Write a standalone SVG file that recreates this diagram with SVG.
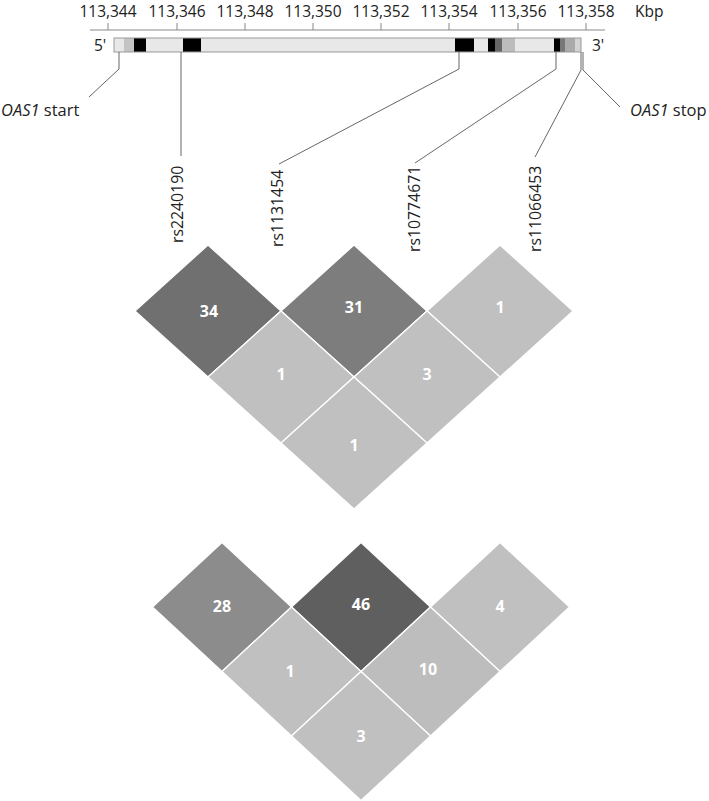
<svg xmlns="http://www.w3.org/2000/svg" width="709" height="801" viewBox="0 0 709 801">
<style>
text{font-family:"Open Sans","Liberation Sans",sans-serif;fill:#222;}
.tick{font-size:15.5px;text-anchor:middle;}
.lbl{font-size:15.5px;}
.gl{font-size:16.5px;}
.snp{font-size:15.8px;}
.num{font-size:16px;font-weight:bold;fill:#fff;text-anchor:middle;}
.conn{stroke:#666;stroke-width:1;fill:none;}
.dia{stroke:#fff;stroke-width:1.3;}
.light{fill:#c0c0c0;}
</style>
<rect width="709" height="801" fill="#fff"/>
<g id="axis">
<line x1="90" y1="30" x2="605" y2="30" stroke="#888" stroke-width="1"/>
<g stroke="#888" stroke-width="1">
<line x1="108" y1="23" x2="108" y2="30"/><line x1="177" y1="23" x2="177" y2="30"/><line x1="245" y1="23" x2="245" y2="30"/><line x1="313" y1="23" x2="313" y2="30"/><line x1="381" y1="23" x2="381" y2="30"/><line x1="449" y1="23" x2="449" y2="30"/><line x1="518" y1="23" x2="518" y2="30"/><line x1="586" y1="23" x2="586" y2="30"/>
</g>
<text class="tick" x="108" y="16.5">113,344</text>
<text class="tick" x="177" y="16.5">113,346</text>
<text class="tick" x="245" y="16.5">113,348</text>
<text class="tick" x="313" y="16.5">113,350</text>
<text class="tick" x="381" y="16.5">113,352</text>
<text class="tick" x="449" y="16.5">113,354</text>
<text class="tick" x="518" y="16.5">113,356</text>
<text class="tick" x="586" y="16.5">113,358</text>
<text class="lbl" x="635" y="16.5">Kbp</text>
</g>
<g id="gene">
<rect x="114" y="38" width="467" height="14" fill="#e8e8e8"/>
<rect x="124" y="38" width="10" height="14" fill="#c4c4c4"/>
<rect x="134" y="38" width="12" height="14" fill="#000"/>
<rect x="183" y="38" width="18" height="14" fill="#000"/>
<rect x="455" y="38" width="19" height="14" fill="#000"/>
<rect x="488" y="38" width="7" height="14" fill="#000"/>
<rect x="495" y="38" width="7" height="14" fill="#666"/>
<rect x="502" y="38" width="13" height="14" fill="#bcbcbc"/>
<rect x="554" y="38" width="6" height="14" fill="#000"/>
<rect x="560" y="38" width="5" height="14" fill="#777"/>
<rect x="565" y="38" width="10" height="14" fill="#aaa"/>
<rect x="575" y="38" width="6" height="14" fill="#d4d4d4"/>
<rect x="114" y="38" width="467" height="14" fill="none" stroke="#999" stroke-width="1"/>
<text class="lbl" x="94" y="51">5'</text>
<text class="lbl" x="592" y="51">3'</text>
</g>
<g id="connectors">
<polyline class="conn" points="119,52 119,69 89,97"/>
<polyline class="conn" points="181,52 181,156"/>
<polyline class="conn" points="459,52 459,69 279,164"/>
<polyline class="conn" points="556,52 556,69 415,163"/>
<polyline class="conn" points="581,52 581,70 535,157"/>
<polyline class="conn" points="583,52 583,70 620,107"/>
</g>
<g id="labels">
<text class="gl" x="1" y="116"><tspan font-style="italic">OAS1</tspan> start</text>
<text class="gl" x="630" y="116"><tspan font-style="italic">OAS1</tspan> stop</text>
<text class="snp" transform="translate(183,243) rotate(-90)">rs2240190</text>
<text class="snp" transform="translate(283,247) rotate(-90)">rs1131454</text>
<text class="snp" transform="translate(420,252) rotate(-90)">rs10774671</text>
<text class="snp" transform="translate(541,252) rotate(-90)">rs11066453</text>
</g>
<g id="ld1">
<g id="d1-34"><polygon class="dia" fill="#707070" points="135,311 208,245 281,311 208,377"/><text class="num" x="209" y="317">34</text></g>
<g id="d1-31"><polygon class="dia" fill="#7d7d7d" points="281,311 354,245 427,311 354,377"/><text class="num" x="354" y="313">31</text></g>
<g id="d1-1a"><polygon class="dia light" points="427,311 500,245 573,311 500,377"/><text class="num" x="500" y="313">1</text></g>
<g id="d1-1b"><polygon class="dia light" points="208,377 281,311 354,377 281,443"/><text class="num" x="281" y="380">1</text></g>
<g id="d1-3"><polygon class="dia light" points="354,377 427,311 500,377 427,443"/><text class="num" x="427" y="380">3</text></g>
<g id="d1-1c"><polygon class="dia light" points="281,443 354,377 427,443 354,509"/><text class="num" x="354" y="451">1</text></g>
</g>
<g id="ld2">
<g id="d2-28"><polygon class="dia" fill="#8c8c8c" points="152.5,607 222,542.5 291.5,607 222,671.5"/><text class="num" x="222" y="612">28</text></g>
<g id="d2-46"><polygon class="dia" fill="#5f5f5f" points="291.5,607 361,542.5 430.5,607 361,671.5"/><text class="num" x="361" y="610">46</text></g>
<g id="d2-4"><polygon class="dia light" points="430.5,607 500,542.5 569.5,607 500,671.5"/><text class="num" x="500" y="612">4</text></g>
<g id="d2-1"><polygon class="dia light" points="222,671.5 291.5,607 361,671.5 291.5,736"/><text class="num" x="290" y="677">1</text></g>
<g id="d2-10"><polygon class="dia" fill="#bdbdbd" points="361,671.5 430.5,607 500,671.5 430.5,736"/><text class="num" x="428" y="675">10</text></g>
<g id="d2-3"><polygon class="dia light" points="291.5,736 361,671.5 430.5,736 361,800.5"/><text class="num" x="361" y="742">3</text></g>
</g>
</svg>
